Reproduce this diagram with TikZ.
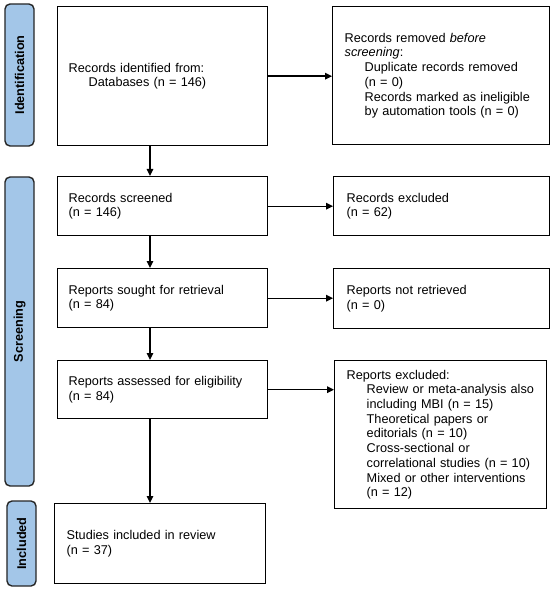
\documentclass[tikz,border=0pt]{standalone}
\usepackage{fontspec}
\setmainfont{Liberation Sans}
\usetikzlibrary{arrows.meta}
\definecolor{phase}{RGB}{163,198,232}
\newcommand{\Ind}[1]{\mbox{\hspace{20bp}#1}}
\newcommand{\Lin}[1]{\mbox{#1}}
\begin{document}
\begin{tikzpicture}[x=1bp,y=-1bp,
  box/.style={draw=black, line width=1.4bp, rectangle, anchor=north west, align=left,
    inner xsep=11bp, inner ysep=0pt, font=\fontsize{12.7bp}{14.7bp}\selectfont},
  phasebox/.style={draw=black!85, line width=1.4bp, fill=phase, rounded corners=5bp,
    rotate=90, inner sep=0pt, minimum height=29bp,
    font=\fontsize{12.7bp}{14.7bp}\selectfont\bfseries},
  arr/.style={-{Triangle[length=7bp,width=6.5bp]}, line width=1.4bp}]
\useasboundingbox (0,0) rectangle (550,592);

% phase labels
\node[phasebox, minimum width=142bp] (p1) at (19.5,75) {Identification};
\node[phasebox, minimum width=309bp] (p2) at (19.5,331.5) {Screening};
\node[phasebox, minimum width=85bp] (p3) at (21.5,543.5) {Included};

% left column
\node[box, text width=188bp, minimum height=139bp] (b1) at (57,6)
  {\Lin{Records identified from:}\\\Ind{Databases (n = 146)}};
\node[box, text width=188bp, minimum height=59bp] (b2) at (57,176)
  {\Lin{Records screened}\\\Lin{(n = 146)}};
\node[box, text width=188bp, minimum height=59bp] (b3) at (57,268)
  {\Lin{Reports sought for retrieval}\\\Lin{(n = 84)}};
\node[box, text width=188bp, minimum height=58bp] (b4) at (57,360)
  {\Lin{Reports assessed for eligibility}\\\Lin{(n = 84)}};
\node[box, inner xsep=12bp, text width=187bp, minimum height=80bp] (b5) at (54,503)
  {\Lin{Studies included in review}\\\Lin{(n = 37)}};

% right column
\node[box, inner xsep=12bp, text width=193bp, minimum height=138bp] (r1) at (332,6)
  {\Lin{Records removed \textit{before}}\\\Lin{\textit{screening}:}\\
   \Ind{Duplicate records removed}\\\Ind{(n = 0)}\\
   \Ind{Records marked as ineligible}\\\Ind{by automation tools (n = 0)}};
\node[box, inner xsep=13bp, text width=190bp, minimum height=59bp] (r2) at (333,176)
  {\Lin{Records excluded}\\\Lin{(n = 62)}};
\node[box, inner xsep=13bp, text width=190bp, minimum height=60bp] (r3) at (333,268)
  {\Lin{Reports not retrieved}\\\Lin{(n = 0)}};
\node[box, inner xsep=12bp, text width=188bp, minimum height=148bp] (r4) at (334,360)
  {\Lin{Reports excluded:}\\
   \Ind{Review or meta-analysis also}\\\Ind{including MBI (n = 15)}\\
   \Ind{Theoretical papers or}\\\Ind{editorials (n = 10)}\\
   \Ind{Cross-sectional or}\\\Ind{correlational studies (n = 10)}\\
   \Ind{Mixed or other interventions}\\\Ind{(n = 12)}};

% connectors
\coordinate (ax) at (150,0);
\draw[arr] (b1.south -| ax) -- (b2.north -| ax);
\draw[arr] (b2.south -| ax) -- (b3.north -| ax);
\draw[arr] (b3.south -| ax) -- (b4.north -| ax);
\draw[arr] (b4.south -| ax) -- (b5.north -| ax);
\draw[arr] (b1.east) -- (b1.east -| r1.west);
\draw[arr] (b2.east) -- (b2.east -| r2.west);
\draw[arr] (b3.east) -- (b3.east -| r3.west);
\draw[arr] (b4.east) -- (b4.east -| r4.west);
\end{tikzpicture}
\end{document}
